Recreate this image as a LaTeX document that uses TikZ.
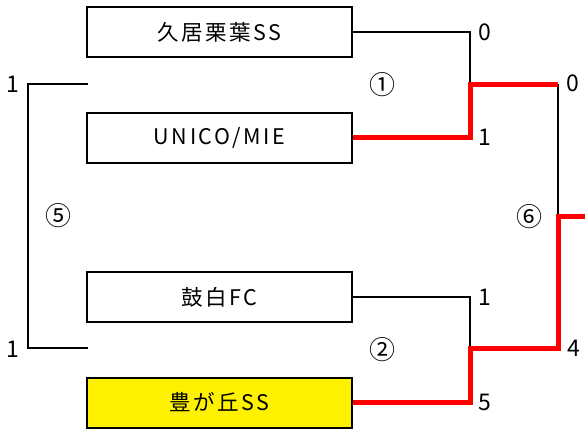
\documentclass[tikz,border=0pt]{standalone}
\usepackage{fontspec}
\setmainfont{Noto Sans CJK JP}
\newfontfamily\teamfont[LetterSpace=12]{Noto Sans CJK JP}
\usetikzlibrary{positioning}

\begin{document}
\begin{tikzpicture}[x=1pt,y=-1pt,
	team/.style={draw,line width=2pt,minimum width=265pt,minimum height=50pt,inner sep=0pt,font=\teamfont\fontsize{21.5}{24}\selectfont},
	score/.style={inner sep=0pt,font=\fontsize{23}{26}\selectfont},
	game/.style={inner sep=0pt,font=\fontsize{26}{28}\selectfont},
	lose/.style={line width=2pt},
	win/.style={red,line width=5pt}]
 \useasboundingbox (0,0) rectangle (585,432);
%	teams
 \node[team] (t1) at (219.5,32) {久居栗葉SS};
 \node[team] (t2) at (219.5,137.5) {UNICO/MIE};
 \node[team] (t3) at (219.5,297) {鼓白FC};
 \node[team,fill=yellow] (t4) at (219.5,402.5) {豊が丘SS};
%	joints
 \coordinate (m1) at (470,84);
 \coordinate (m2) at (470,348);
 \coordinate (f1) at (558,84);
 \coordinate (f2) at (558,348);
 \coordinate (f) at (558,216);
 \coordinate (fin) at (585,216);
 \coordinate (l1) at (88,84);
 \coordinate (l0) at (28,84);
 \coordinate (l2) at (28,348);
 \coordinate (l3) at (88,348);
%	black lines
 \draw[lose] (t1.east) -| (m1)
		(t3.east) -| (m2)
		(f1) -- (f)
		(l1) -- (l0) -- (l2) -- (l3);
%	red lines
 \draw[win] (t2.east) -| (m1) -- (f1);
 \draw[win] (t4.east) -| (m2) -- (f2) -- (f) -- (fin);
%	scores
 \node[score] (s1) at (485,32) {0};
 \node[score] (s2) at (485,137) {1};
 \node[score] (s3) at (485,297) {1};
 \node[score] (s4) at (485,402) {5};
 \node[score] (s5) at (573,83) {0};
 \node[score] (s6) at (574,348) {4};
 \node[score] (s7) at (13,84) {1};
 \node[score] (s8) at (13,349) {1};
%	game numbers
 \node[game] (g1) at (382,85) {①};
 \node[game] (g2) at (382,350) {②};
 \node[game] (g5) at (58,216) {⑤};
 \node[game] (g6) at (529,217) {⑥};
\end{tikzpicture}
\end{document}
